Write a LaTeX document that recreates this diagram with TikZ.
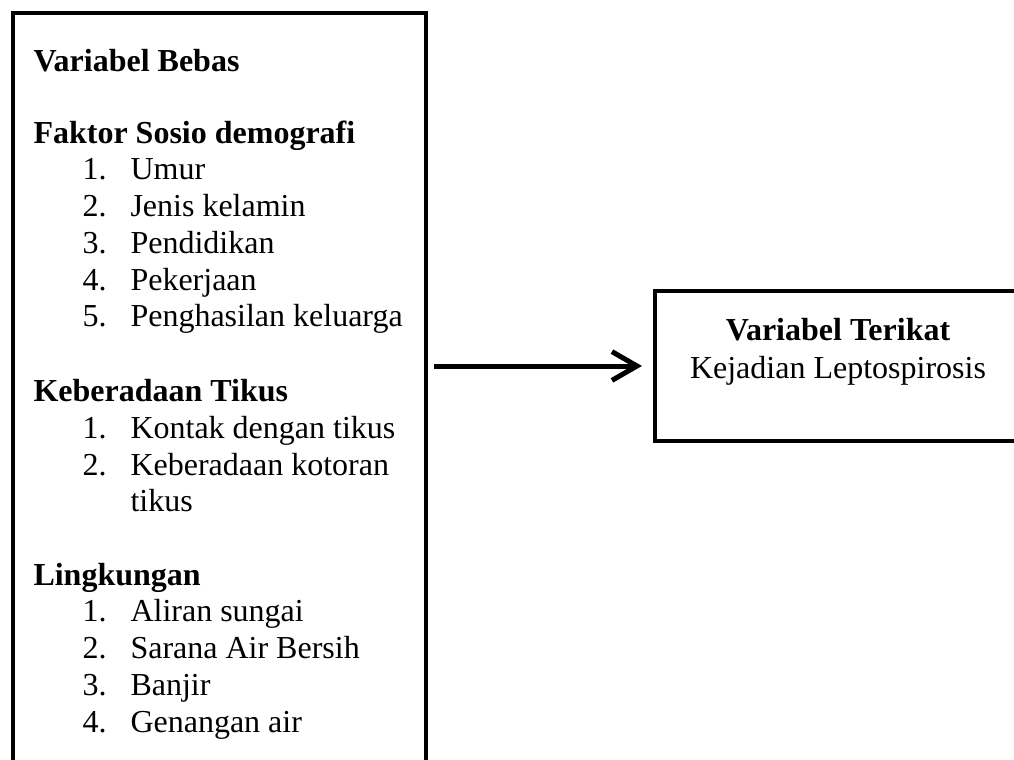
\documentclass[tikz,border=0pt]{standalone}
\usepackage{fontspec}
\setmainfont{Liberation Serif}
\usetikzlibrary{arrows.meta, positioning}

\newcommand{\bodyfont}{\fontsize{12.8}{15}\selectfont}

\begin{document}
\begin{tikzpicture}[
  x=0.4pt, y=-0.4pt,
  varbox/.style={rectangle, draw, line width=1.6pt, inner sep=0pt},
  heading/.style={anchor=base west, inner sep=0pt, font={\bodyfont\bfseries}},
  entry/.style={anchor=base west, inner sep=0pt, font=\bodyfont},
  centred/.style={anchor=base, inner sep=0pt, font=\bodyfont},
  link/.style={line width=2pt, -{Straight Barb[length=10pt, width=11.5pt]}}
  ]
  \useasboundingbox (0, 0) rectangle (1014, 760);

  %% the two boxes
  \node[varbox, minimum width=165.2pt, minimum height=304.8pt] (bebas) at (219.5, 394) {};
  \node[varbox, minimum width=146.4pt, minimum height=60pt] (terikat) at (838, 366) {};

  %% Variabel Bebas
  \node[heading] (bebas-head) at (33, 71) {Variabel Bebas};

  % Faktor Sosio demografi
  \node[heading] (sosio) at (33, 143) {Faktor Sosio demografi};
  \foreach \k/\txt in {1/Umur, 2/Jenis kelamin, 3/Pendidikan, 4/Pekerjaan,
                       5/Penghasilan keluarga}{
    \node[entry] (sosio-num\k) at (82, {143 + 36.75*\k}) {\k.};
    \node[entry] (sosio-txt\k) at (130, {143 + 36.75*\k}) {\txt};
  }

  % Keberadaan Tikus
  \node[heading] (tikus) at (33, 401.5) {Keberadaan Tikus};
  \foreach \k/\txt in {1/Kontak dengan tikus, 2/Keberadaan kotoran}{
    \node[entry] (tikus-num\k) at (82, {401.5 + 36.75*\k}) {\k.};
    \node[entry] (tikus-txt\k) at (130, {401.5 + 36.75*\k}) {\txt};
  }
  \node[entry] (tikus-wrap) at (130, 511) {tikus};

  % Lingkungan
  \node[heading] (lingkungan) at (33, 585) {Lingkungan};
  \foreach \k/\txt in {1/Aliran sungai, 2/Sarana Air Bersih, 3/Banjir, 4/Genangan air}{
    \node[entry] (ling-num\k) at (82, {585 + 36.75*\k}) {\k.};
    \node[entry] (ling-txt\k) at (130, {585 + 36.75*\k}) {\txt};
  }

  %% Variabel Terikat
  \node[centred, font={\bodyfont\bfseries}] (terikat-head) at (838, 340) {Variabel Terikat};
  \node[centred] (terikat-txt) at (838, 378) {Kejadian Leptospirosis};

  %% arrow
  \draw[link, shorten <=2.4pt, shorten >=4.4pt] (bebas.east |- terikat.west) -- (terikat.west);

\end{tikzpicture}
\end{document}
